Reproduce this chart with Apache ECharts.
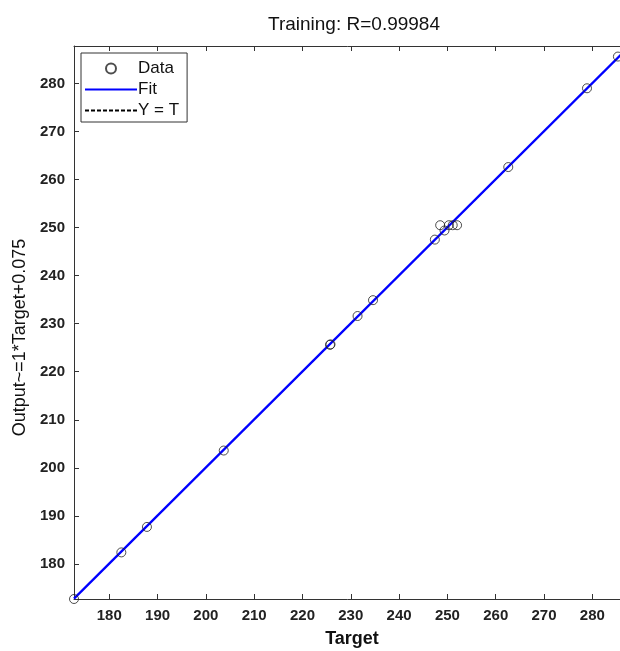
<!DOCTYPE html>
<html>
<head>
<meta charset="utf-8">
<script src="https://cdn.jsdelivr.net/npm/echarts@6/dist/echarts.min.js"></script>
<style>
  html, body { margin: 0; padding: 0; background: #fff; }
  #main { width: 620px; height: 651px; }
</style>
</head>
<body>
<div id="main"></div>
<script>
var targets = [172.7, 182.5, 187.8, 203.7, 225.7, 225.8, 231.4, 234.6, 247.4, 248.5, 249.4, 250.3, 251.1, 252.0, 262.6, 278.9, 285.3];
var outputs = [172.7, 182.4, 187.7, 203.6, 225.6, 225.7, 231.6, 234.9, 247.5, 250.5, 249.4, 250.5, 250.5, 250.5, 262.6, 279.0, 285.6];
var axisMin = 172.7;
var axisMax = 287.8;
var tickValues = [180, 190, 200, 210, 220, 230, 240, 250, 260, 270, 280];
var fitSlope = 1;
var fitOffset = 0.075;

var points = targets.map(function (t, i) { return [t, outputs[i]]; });
var fitLine = [[axisMin, axisMin * fitSlope + fitOffset], [axisMax, axisMax * fitSlope + fitOffset]];
var idLine = [[axisMin, axisMin], [axisMax, axisMax]];

var font = 'Liberation Sans, Arial, sans-serif';

function mainAxis(pos, name, gap, nameStyle) {
    return {
        type: 'value',
        position: pos,
        min: axisMin,
        max: axisMax,
        name: name,
        nameLocation: 'middle',
        nameGap: gap,
        nameTextStyle: nameStyle,
        splitLine: { show: false },
        axisLine: { show: true, onZero: false, lineStyle: { color: '#333', width: 1 } },
        axisTick: { inside: true, length: 5, customValues: tickValues, lineStyle: { color: '#333' } },
        axisLabel: { customValues: tickValues, margin: 9, fontFamily: font, fontSize: 15, fontWeight: 'bold', color: '#222' }
    };
}

function mirrorAxis(pos) {
    return {
        type: 'value',
        position: pos,
        min: axisMin,
        max: axisMax,
        splitLine: { show: false },
        axisLine: { show: true, onZero: false, lineStyle: { color: '#333', width: 1 } },
        axisTick: { inside: true, length: 5, customValues: tickValues, lineStyle: { color: '#333' } },
        axisLabel: { show: false }
    };
}

var chart = echarts.init(document.getElementById('main'), null, { renderer: 'canvas' });
chart.setOption({
    animation: false,
    backgroundColor: '#fff',
    title: {
        text: 'Training: R=0.99984',
        left: 349,
        top: 10,
        textAlign: 'center',
        textStyle: { fontFamily: font, fontSize: 19, fontWeight: 'normal', color: '#111' }
    },
    grid: { left: 74, right: -10, top: 46, bottom: 52, outerBoundsMode: 'none', containLabel: false },
    xAxis: [
        mainAxis('bottom', 'Target', 31, { fontFamily: font, fontSize: 18, fontWeight: 'bold', color: '#111' }),
        mirrorAxis('top')
    ],
    yAxis: [
        mainAxis('left', 'Output~=1*Target+0.075', 41, { fontFamily: font, fontSize: 18, fontWeight: 'normal', color: '#111', padding: [0, 30, 0, 0] }),
        mirrorAxis('right')
    ],
    legend: {
        orient: 'vertical',
        left: 81,
        top: 53,
        itemWidth: 52,
        itemHeight: 10,
        itemGap: 4,
        padding: [7, 8, 3, 3],
        borderColor: '#333',
        borderWidth: 1,
        backgroundColor: '#fff',
        textStyle: { fontFamily: font, fontSize: 17, color: '#111', padding: [0, 0, 0, -4] },
        data: [
            { name: 'Data' },
            { name: 'Fit', itemStyle: { color: 'rgba(0,0,0,0)', borderWidth: 0 } },
            { name: 'Y = T', itemStyle: { color: 'rgba(0,0,0,0)', borderWidth: 0 } }
        ]
    },
    series: [
        {
            name: 'Y = T',
            type: 'line',
            data: idLine,
            symbol: 'none',
            lineStyle: { color: '#000', width: 1, type: [4, 2] },
            itemStyle: { color: '#000' },
            z: 1
        },
        {
            name: 'Fit',
            type: 'line',
            data: fitLine,
            symbol: 'none',
            lineStyle: { color: '#0000ff', width: 2.3 },
            itemStyle: { color: '#0000ff' },
            z: 2
        },
        {
            name: 'Data',
            type: 'scatter',
            data: points,
            symbol: 'circle',
            symbolSize: 9,
            itemStyle: { color: 'rgba(0,0,0,0)', borderColor: '#222', borderWidth: 1 },
            z: 3
        }
    ]
});
</script>
</body>
</html>
